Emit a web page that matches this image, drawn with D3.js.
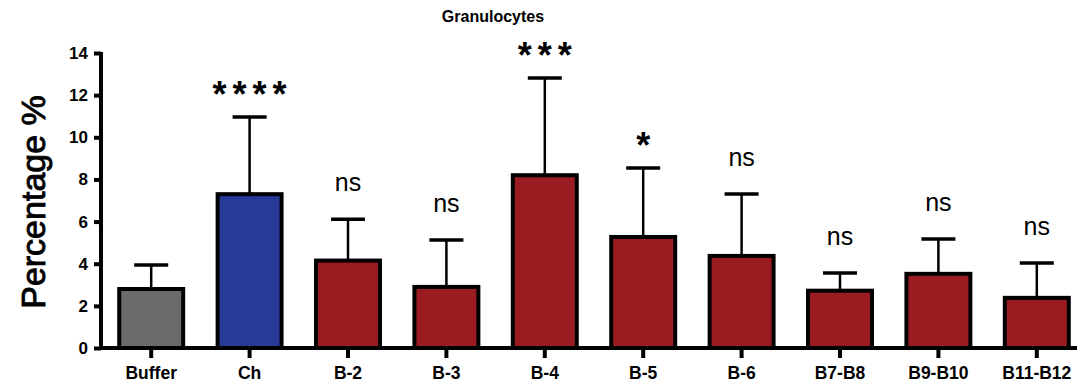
<!DOCTYPE html>
<html>
<head>
  <meta charset="UTF-8">
  <style>
    body { margin: 0; background: #fff; }
    svg { display: block; font-family: "Liberation Sans", Arial, sans-serif; }
  </style>
</head>
<body>
<svg></svg>
<script src="https://d3js.org/d3.v7.min.js"></script>
<script>

let width = 1083, height = 385;
let svg = d3.select("svg").attr("width", width).attr("height", height);

// values
const groups = ["Buffer", "Ch", "B-2", "B-3", "B-4", "B-5", "B-6", "B7-B8", "B9-B10", "B11-B12"];
const means  = [2.8, 7.3, 4.15, 2.9, 8.2, 5.27, 4.37, 2.72, 3.52, 2.38];
const errTop = [3.94, 10.96, 6.11, 5.13, 12.81, 8.54, 7.31, 3.56, 5.17, 4.03];
const signif = ["", "****", "ns", "ns", "***", "*", "ns", "ns", "ns", "ns"];
const fills  = ["#6b6b6b", "#283a98", "#9a1c20", "#9a1c20", "#9a1c20", "#9a1c20", "#9a1c20", "#9a1c20", "#9a1c20", "#9a1c20"];
const yTicks = [0, 2, 4, 6, 8, 10, 12, 14];

let y = d3.scaleLinear().domain([0, 14]).range([348, 53]);
let x = d3.scaleBand().domain(groups).range([102, 1086]).paddingInner(0.35).paddingOuter(0.175);
let cx = d => x(d) + x.bandwidth() / 2;

// title
svg.append("text").attr("x", 493).attr("y", 22).attr("text-anchor", "middle")
  .style("font-size", "16px").style("font-weight", "bold").text("Granulocytes");

// y label
svg.append("text").attr("transform", "translate(45,202) rotate(-90)")
  .attr("text-anchor", "middle").style("font-size", "34px")
  .attr("stroke", "#000").attr("stroke-width", 0.9).text("Percentage %");

// error bars (behind bars)
let eb = svg.append("g").attr("stroke", "#000");
groups.forEach((g, i) => {
  eb.append("line").attr("x1", cx(g)).attr("x2", cx(g))
    .attr("y1", y(means[i])).attr("y2", y(errTop[i])).attr("stroke-width", 2.5);
  eb.append("line").attr("x1", cx(g) - 17).attr("x2", cx(g) + 17)
    .attr("y1", y(errTop[i])).attr("y2", y(errTop[i])).attr("stroke-width", 3.5);
});

// bars
svg.append("g").selectAll("rect").data(groups).enter().append("rect")
  .attr("x", d => x(d))
  .attr("width", x.bandwidth())
  .attr("y", (d, i) => y(means[i]))
  .attr("height", (d, i) => y(0) - y(means[i]))
  .attr("fill", (d, i) => fills[i])
  .attr("stroke", "#000").attr("stroke-width", 4);

// significance labels
groups.forEach((g, i) => {
  if (!signif[i]) return;
  let stars = signif[i] != "ns";
  svg.append("text").attr("x", cx(g) + (stars ? 3 : 0))
    .attr("y", stars ? y(errTop[i]) - 10 : y(errTop[i]) - 28)
    .attr("text-anchor", "middle")
    .style("font-size", stars ? "36px" : "25px")
    .style("font-weight", stars ? "bold" : "normal")
    .style("letter-spacing", stars ? "6px" : "0px")
    .text(signif[i]);
});

// y axis
let yAxis = svg.append("g").attr("transform", "translate(101,0)")
  .call(d3.axisLeft(y).tickValues(yTicks).tickSize(7).tickSizeOuter(0).tickPadding(6));
yAxis.select(".domain").attr("stroke-width", 4).attr("d", "M0," + (y(14) - 1) + "V" + (y(0) + 2));
yAxis.selectAll(".tick line").attr("stroke-width", 4);
yAxis.selectAll(".tick text").style("font-size", "17px").style("font-weight", "bold")
  .style("font-family", "Liberation Sans, Arial, sans-serif").attr("fill", "#000");

// x axis
let xAxis = svg.append("g").attr("transform", "translate(0," + y(0) + ")")
  .call(d3.axisBottom(x).tickSize(10).tickSizeOuter(0).tickPadding(9));
xAxis.select(".domain").attr("stroke-width", 4).attr("d", "M99,0H1077");
xAxis.selectAll(".tick line").attr("stroke-width", 4);
xAxis.selectAll(".tick text").style("font-size", "17.5px").style("font-weight", "bold")
  .style("font-family", "Liberation Sans, Arial, sans-serif").attr("fill", "#000");

</script>
</body>
</html>
